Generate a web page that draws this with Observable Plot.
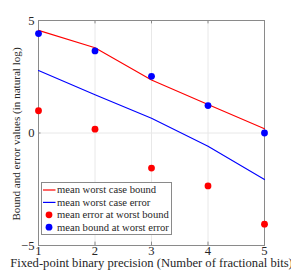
<!DOCTYPE html>
<html>
<head>
<meta charset="utf-8">
<script src="https://cdn.jsdelivr.net/npm/d3@7"></script>
<script src="https://cdn.jsdelivr.net/npm/@observablehq/plot@0.6"></script>
<style>
  body { margin: 0; background: #fff; }
</style>
</head>
<body>
<div id="wrap"></div>
<script>
const bits = [1, 2, 3, 4, 5];
const worstBound = [4.56, 3.79, 2.36, 1.27, 0.19];
const worstError = [2.78, 1.70, 0.66, -0.59, -2.07];
const errAtWorstBound = [0.99, 0.17, -1.56, -2.35, -4.05];
const boundAtWorstError = [4.42, 3.65, 2.52, 1.22, 0.0];
const yTicks = [-5, 0, 5];
const seriesNames = ["mean worst case bound", "mean worst case error", "mean error at worst bound", "mean bound at worst error"];
const seriesColors = ["#ff0000", "#0000ff", "#ff0000", "#0000ff"];
const seriesKinds = ["line", "line", "dot", "dot"];

const rows = (vals) => bits.map((b, i) => ({x: b, y: vals[i]}));
const FS = 12.6;
const FONT = "Liberation Serif, Times New Roman, serif";

const chart = Plot.plot({
  width: 291,
  height: 276,
  marginLeft: 38,
  marginRight: 27,
  marginTop: 20,
  marginBottom: 31,
  style: {fontFamily: FONT, fontSize: FS + "px", color: "#262626", background: "#fff"},
  x: {domain: [1, 5], ticks: bits, tickFormat: d3.format("d"), label: null},
  y: {domain: [-5, 5], ticks: yTicks, tickFormat: (d) => d < 0 ? "-" + Math.abs(d) : String(d), label: null},
  marks: [
    Plot.gridX(bits, {stroke: "#e8e8e8", strokeOpacity: 1}),
    Plot.gridY(yTicks, {stroke: "#e8e8e8", strokeOpacity: 1}),
    Plot.frame({stroke: "#8a8a8a"}),
    Plot.axisX(bits, {tickSize: 0, tickPadding: 1, fill: "#262626", fontSize: FS}),
    Plot.axisY(yTicks, {tickSize: 0, tickPadding: 4, fill: "#262626", fontSize: FS}),
    Plot.ruleX(bits, {x: d => d, y1: -5, y2: -4.85, stroke: "#8a8a8a"}),
    Plot.ruleX(bits, {x: d => d, y1: 5, y2: 4.85, stroke: "#8a8a8a"}),
    Plot.ruleY(yTicks, {y: d => d, x1: 1, x2: 1.045, stroke: "#8a8a8a"}),
    Plot.ruleY(yTicks, {y: d => d, x1: 5, x2: 4.955, stroke: "#8a8a8a"}),
    Plot.text(["Fixed-point binary precision (Number of fractional bits)"], {frameAnchor: "bottom", dy: 21, fontSize: FS, fill: "#262626"}),
    Plot.text(["Bound and error values (in natural log)"], {frameAnchor: "left", dx: -22, dy: 1, rotate: -90, textAnchor: "middle", fontSize: 11.1, fill: "#262626"}),
    Plot.line(rows(worstBound), {x: "x", y: "y", stroke: seriesColors[0], strokeWidth: 1.1}),
    Plot.line(rows(worstError), {x: "x", y: "y", stroke: seriesColors[1], strokeWidth: 1.1}),
    Plot.dot(rows(errAtWorstBound), {x: "x", y: "y", r: 3.4, fill: seriesColors[2]}),
    Plot.dot(rows(boundAtWorstError), {x: "x", y: "y", r: 3.4, fill: seriesColors[3]})
  ]
});

document.getElementById("wrap").appendChild(chart);

// Legend box inside the plot area (lower-left), drawn into the Plot SVG
const svg = d3.select(chart);
const lg = svg.append("g").attr("transform", "translate(41.5,182.5)");
lg.append("rect").attr("width", 130).attr("height", 52)
  .attr("fill", "#fff").attr("stroke", "#8a8a8a").attr("stroke-width", 1);
seriesNames.forEach((name, i) => {
  const cy = 7.5 + i * 12.4;
  if (seriesKinds[i] === "line") {
    lg.append("line").attr("x1", 1.5).attr("x2", 14).attr("y1", cy).attr("y2", cy)
      .attr("stroke", seriesColors[i]).attr("stroke-width", 1.2);
  } else {
    lg.append("circle").attr("cx", 7.5).attr("cy", cy).attr("r", 3.4).attr("fill", seriesColors[i]);
  }
  lg.append("text").attr("x", 15.5).attr("y", cy).attr("dy", "0.32em")
    .attr("text-anchor", "start")
    .attr("font-family", FONT).attr("font-size", 10.6).attr("fill", "#262626")
    .text(name);
});
</script>
</body>
</html>
